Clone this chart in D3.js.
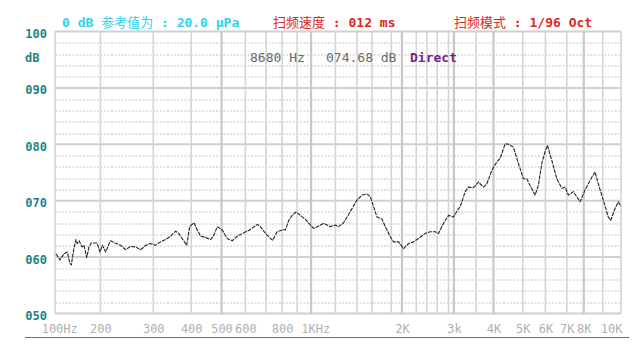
<!DOCTYPE html>
<html>
  <head>
    <meta charset="utf-8">
    <title>Frequency response</title>
    <script src="https://cdn.jsdelivr.net/npm/d3@7"></script>
    <style>
      body { margin: 0; background: #fff; }
      svg { display: block; font-family: "DejaVu Sans Mono", "Liberation Mono", monospace; }
      .cjk { font-family: "Noto Sans CJK SC", sans-serif; font-weight: normal; }
    </style>
  </head>

  <body>
    <svg id="chart" width="636" height="351"></svg>

    <script>
      // data
      freqs = [102, 107, 111, 120, 127, 133, 136, 141, 146, 149, 153, 160, 164, 170, 175, 180, 193, 199,
        204, 210, 219, 228, 238, 248, 257, 267, 276, 286, 295, 306, 319, 332, 346, 359, 367, 376, 388, 396,
        409, 420, 431, 447, 464, 475, 486, 503, 524, 545, 565, 593, 624, 657, 672, 697, 727, 741, 769, 811,
        822, 844, 867, 893, 924, 959, 995, 1021, 1063, 1104, 1159, 1200, 1230, 1276, 1308, 1354, 1400, 1467,
        1533, 1577, 1617, 1652, 1704, 1738, 1790, 1843, 1936, 2022, 2092, 2162, 2243, 2368, 2464, 2561, 2623,
        2711, 2800, 2985, 3103, 3141, 3253, 3327, 3439, 3566, 3711, 3809, 3954, 4116, 4228, 4398, 4510, 4680,
        4850, 5027, 5177, 5323, 5544, 5690, 5840, 5987, 6093, 6299, 6533, 6766, 6921, 7094, 7388, 7588, 7782,
        8068, 8331, 8594, 8768, 9033, 9306, 9437, 9672, 9852, 9984];
      levels = [60.6, 60.0, 59.5, 60.6, 60.9, 58.9, 58.6, 61.2, 63.1, 62.4, 62.9, 61.8, 62.1, 59.9, 61.8, 62.5, 62.5, 60.9,
        62.1, 60.9, 62.9, 62.5, 62.1, 61.3, 61.9, 61.8, 61.3, 62.1, 62.4, 62.1, 62.7, 63.1, 63.7, 64.6, 64.2, 63.3, 62.1, 65.4,
        66.1, 64.8, 63.7, 63.5, 63.1, 63.9, 65.4, 64.8, 63.3, 62.9, 63.7, 64.3, 64.9, 65.8, 65.4, 64.2, 63.3, 63.0, 64.5, 64.9,
        64.8, 66.5, 67.4, 68.0, 67.4, 66.7, 65.7, 65.1, 65.5, 66.0, 65.4, 65.7, 65.4, 66.1, 67.1, 68.6, 70.1, 71.0,
        71.2, 70.7, 68.9, 67.1, 66.7, 65.4, 63.6, 62.7, 62.7, 61.5, 62.4, 62.7, 63.3, 64.2, 64.5, 64.5, 64.2,
        66.0, 67.4, 67.1, 68.6, 68.9, 71.6, 72.4, 72.3, 73.3, 72.4, 73.0, 75.4, 76.9, 77.5, 80.1, 80.0, 79.5,
        76.6, 73.9, 73.9, 72.7, 71.0, 72.7, 76.6, 78.7, 79.8, 77.2, 73.9, 72.2, 72.4, 71.0, 71.6, 70.7, 69.8,
        71.9, 73.6, 75.1, 73.0, 70.1, 67.1, 66.5, 68.6, 69.8, 69.0];

      // axis content
      gridFreqs = [100, 200, 300, 400, 500, 600, 700, 800, 900, 1000, 1200, 1400, 1600, 1800, 2000,
        2200, 2400, 2600, 2800, 3000, 3500, 4000, 5000, 6000, 7000, 8000, 9000, 10000];
      majorFreqs = [500, 1000, 2000, 3000, 4000, 8000];
      labelFreqs = [100, 200, 300, 400, 500, 600, 800, 1000, 2000, 3000, 4000, 5000, 6000, 7000, 8000, 10000];
      freqLabels = ["100Hz", "200", "300", "400", "500", "600", "800", "1KHz", "2K", "3k", "4K", "5K", "6K", "7K", "8K", "10K"];
      dbTicks = [50, 60, 70, 80, 90, 100];
      dbLabels = ["050", "060", "070", "080", "090", "100"];

      // the analyser's frequency axis is not a clean log axis
      gridStops = [0, .0801, .1736, .2407, .2942, .3365, .3730, .4013, .4277, .4524, .4953, .5336, .5601, .5941, .6130,
        .6383, .6571, .6753, .6953, .7048, .7441, .7747, .8265, .8664, .9042, .9342, .9677, 1];

      margin = {top: 31.5, right: 15, bottom: 37.5, left: 55};
      width = 636 - margin.left - margin.right;
      height = 351 - margin.top - margin.bottom;

      chart = d3.select("#chart");
      plot = chart.append("g")
        .attr("transform", "translate(" + margin.left + "," + margin.top + ")");

      scaleX = d3.scaleLinear()
        .domain(gridFreqs)
        .range(gridStops.map(d => d * width));

      scaleY = d3.scaleLinear()
        .domain([50, 100])
        .range([height, 0]);

      // minor dotted lines every 2 dB
      minor = d3.range(50, 100, 2).filter(d => d % 10 !== 0);
      plot.append("g")
        .selectAll("line")
          .data(minor)
        .enter().append("line")
          .attr("x1", 0)
          .attr("x2", width)
          .attr("y1", d => Math.round(scaleY(d)) + .5)
          .attr("y2", d => Math.round(scaleY(d)) + .5)
          .attr("stroke", "#c2c2c2")
          .attr("stroke-width", 1)
          .attr("stroke-dasharray", "2,1.5");

      // solid 10 dB lines
      plot.append("g")
        .selectAll("line")
          .data(dbTicks)
        .enter().append("line")
          .attr("x1", 0)
          .attr("x2", width)
          .attr("y1", d => scaleY(d))
          .attr("y2", d => scaleY(d))
          .attr("stroke", "#d0d0d0")
          .attr("stroke-width", 2);

      // vertical frequency lines
      plot.append("g")
        .selectAll("line")
          .data(gridFreqs)
        .enter().append("line")
          .attr("x1", d => scaleX(d))
          .attr("x2", d => scaleX(d))
          .attr("y1", 0)
          .attr("y2", height)
          .attr("stroke", d => majorFreqs.includes(d) ? "#c8c8c8" : "#d4d4d4")
          .attr("stroke-width", d => majorFreqs.includes(d) ? 2.2 : 1.6);

      // response curve
      line = d3.line()
        .x(d => scaleX(d[0]))
        .y(d => scaleY(d[1]))
        .curve(d3.curveLinear);

      plot.append("path")
        .datum(d3.zip(freqs, levels))
        .attr("d", line)
        .attr("fill", "none")
        .attr("stroke", "#222")
        .attr("stroke-width", 1.1)
        .attr("stroke-dasharray", "4,1")
        .attr("stroke-linejoin", "round");

      // x axis labels
      axisX = d3.axisBottom(scaleX)
        .tickValues(labelFreqs)
        .tickFormat((d, i) => freqLabels[i])
        .tickSize(0)
        .tickPadding(11);

      xAxisGroup = plot.append("g")
        .attr("transform", "translate(0," + height + ")")
        .call(axisX);
      xAxisGroup.select(".domain").remove();
      xAxisGroup.selectAll("text")
        .attr("fill", "#b0b0b0")
        .attr("font-family", "'DejaVu Sans Mono', monospace")
        .attr("font-size", 12)
        .each(function(d, i) {
          let label = freqLabels[i];
          if (label.endsWith("Hz")) {
            d3.select(this)
              .attr("text-anchor", "start")
              .attr("x", -(label.length - 2) * 7.22 / 2 - 3);
          }
          if (label == "10K") d3.select(this).attr("text-anchor", "end").attr("x", 1);
        });

      // y axis labels
      axisY = d3.axisLeft(scaleY)
        .tickValues(dbTicks)
        .tickFormat((d, i) => dbLabels[i])
        .tickSize(0)
        .tickPadding(8);

      yAxisGroup = plot.append("g")
        .call(axisY);
      yAxisGroup.select(".domain").remove();
      yAxisGroup.selectAll("text")
        .attr("fill", "#1d8585")
        .attr("font-family", "'DejaVu Sans Mono', monospace")
        .attr("font-weight", "bold")
        .attr("font-size", 12)
        .attr("dy", "0.5em");

      chart.append("text")
        .attr("x", 25)
        .attr("y", 61.5)
        .attr("fill", "#1d8585")
        .attr("font-weight", "bold")
        .attr("font-size", 12)
        .text("dB");

      // header
      function header(x, color, parts) {
        let t = chart.append("text")
          .attr("x", x)
          .attr("y", 26.5)
          .attr("fill", color)
          .attr("font-size", 13)
          .attr("font-weight", "bold");
        parts.forEach(p => {
          t.append("tspan")
            .classed("cjk", p[1])
            .text(p[0]);
        });
      }
      header(62, "#2fd3ec", [["0 dB ", false], ["参考值为", true], [" : 20.0 \u03bcPa", false]]);
      header(273, "#e02424", [["扫频速度", true], [" : 012 ms", false]]);
      header(454, "#e02424", [["扫频模式", true], [" : 1/96 Oct", false]]);

      // cursor readout
      chart.append("text")
        .attr("x", 250)
        .attr("y", 62)
        .attr("fill", "#6a6a6a")
        .attr("font-size", 13)
        .attr("xml:space", "preserve")
        .text("8680 Hz");
      chart.append("text")
        .attr("x", 326)
        .attr("y", 62)
        .attr("fill", "#6a6a6a")
        .attr("font-size", 13)
        .attr("xml:space", "preserve")
        .text("074.68 dB");
      chart.append("text")
        .attr("x", 410)
        .attr("y", 62)
        .attr("fill", "#7a1d88")
        .attr("font-size", 13)
        .attr("font-weight", "bold")
        .text("Direct");

      // red rule under the axis
      chart.append("line")
        .attr("x1", 25)
        .attr("x2", 629)
        .attr("y1", 337.5)
        .attr("y2", 337.5)
        .attr("stroke", "#c94545")
        .attr("stroke-width", 1);
    </script>
  </body>
</html>
